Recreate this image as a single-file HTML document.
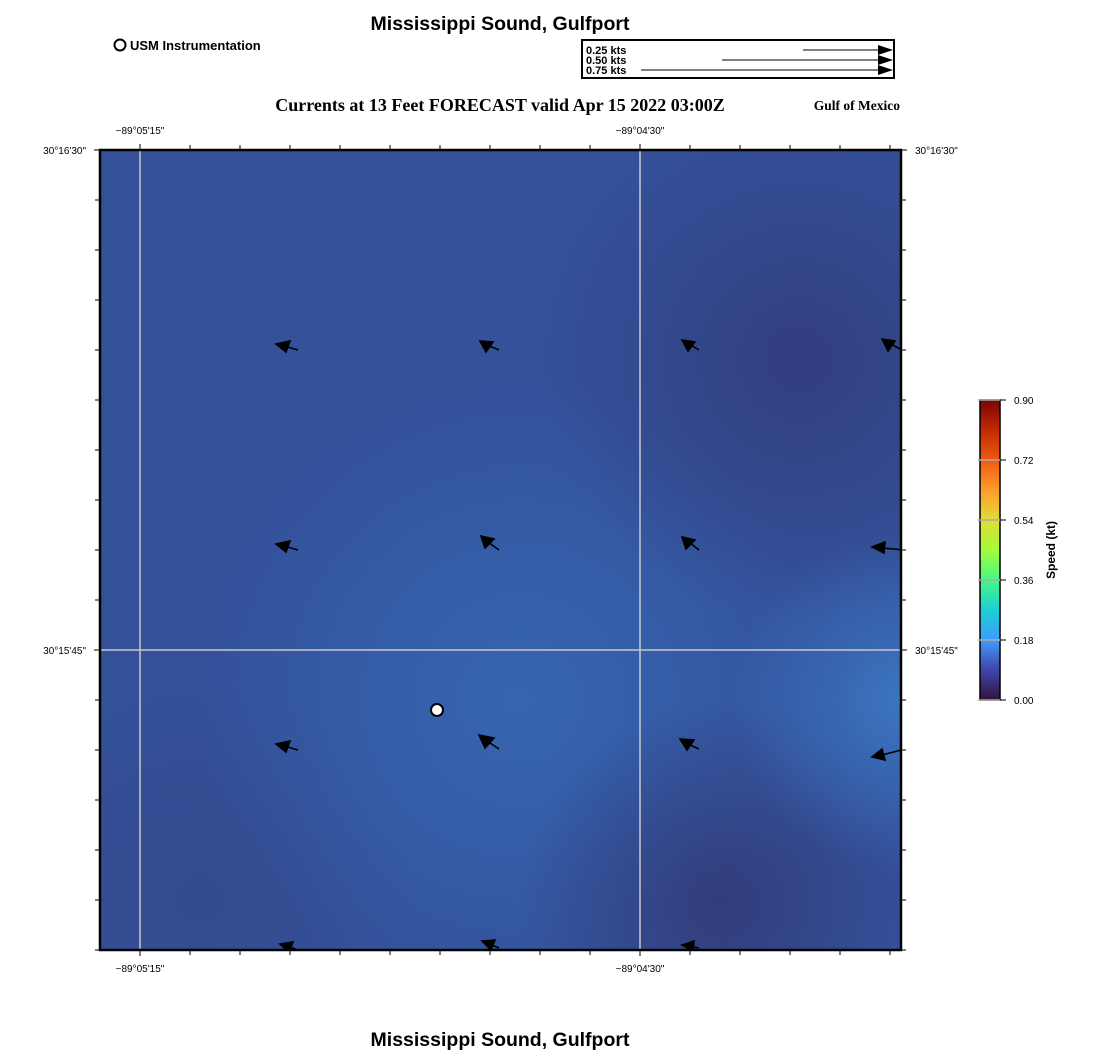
<!DOCTYPE html>
<html><head><meta charset="utf-8"><style>
body{margin:0;background:#fff;width:1100px;height:1050px;overflow:hidden}
svg{display:block}
</style></head><body>
<svg width="1100" height="1050" viewBox="0 0 1100 1050" font-family="Liberation Sans, sans-serif">
<defs>
<linearGradient id="turbo" x1="0" y1="1" x2="0" y2="0">
<stop offset="0" stop-color="#30123b"/><stop offset="0.1" stop-color="#4145ab"/><stop offset="0.2" stop-color="#3e9bfe"/><stop offset="0.3" stop-color="#1bcfd4"/><stop offset="0.4" stop-color="#46f884"/><stop offset="0.5" stop-color="#a2fc3c"/><stop offset="0.6" stop-color="#e1dd37"/><stop offset="0.7" stop-color="#fe9b2d"/><stop offset="0.8" stop-color="#ef5911"/><stop offset="0.9" stop-color="#c12a04"/><stop offset="1" stop-color="#7a0403"/>
</linearGradient>
<radialGradient id="g1" cx="520" cy="700" r="320" gradientUnits="userSpaceOnUse"><stop offset="0" stop-color="#3668b4" stop-opacity="0.9"/><stop offset="1" stop-color="#3668b4" stop-opacity="0"/></radialGradient>
<radialGradient id="g2" cx="900" cy="700" r="170" gradientUnits="userSpaceOnUse"><stop offset="0" stop-color="#3c78c4" stop-opacity="0.9"/><stop offset="1" stop-color="#3c78c4" stop-opacity="0"/></radialGradient>
<radialGradient id="g3" cx="800" cy="360" r="260" gradientUnits="userSpaceOnUse"><stop offset="0" stop-color="#313c7c" stop-opacity="0.9"/><stop offset="1" stop-color="#313c7c" stop-opacity="0"/></radialGradient>
<radialGradient id="g4" cx="720" cy="900" r="200" gradientUnits="userSpaceOnUse"><stop offset="0" stop-color="#313a78" stop-opacity="0.9"/><stop offset="1" stop-color="#313a78" stop-opacity="0"/></radialGradient>
<radialGradient id="g5" cx="200" cy="900" r="220" gradientUnits="userSpaceOnUse"><stop offset="0" stop-color="#344a8e" stop-opacity="1"/><stop offset="1" stop-color="#344a8e" stop-opacity="0"/></radialGradient>
<clipPath id="cp"><rect x="100" y="150" width="801" height="800"/></clipPath>
</defs>
<text x="500" y="30" text-anchor="middle" font-size="19.5" font-weight="bold">Mississippi Sound, Gulfport</text>
<circle cx="120" cy="45" r="5.5" fill="#fff" stroke="#000" stroke-width="2"/>
<text x="130" y="50" font-size="13" font-weight="bold">USM Instrumentation</text>
<rect x="582" y="40" width="312" height="38" fill="#fff" stroke="#000" stroke-width="2"/>
<g font-size="11" font-weight="bold"><text x="586" y="54">0.25 kts</text><text x="586" y="64">0.50 kts</text><text x="586" y="74">0.75 kts</text></g>
<g stroke="#000" stroke-width="1"><line x1="803" y1="50" x2="880" y2="50"/><line x1="722" y1="60" x2="880" y2="60"/><line x1="641" y1="70" x2="880" y2="70"/></g>
<g fill="#000"><polygon points="878,45 893,50 878,55"/><polygon points="878,55 893,60 878,65"/><polygon points="878,65 893,70 878,75"/></g>
<text x="500" y="111" text-anchor="middle" font-size="18" font-weight="bold" font-family="Liberation Serif, serif">Currents at 13 Feet FORECAST valid Apr 15 2022 03:00Z</text>
<text x="900" y="110" text-anchor="end" font-size="13.5" font-weight="bold" font-family="Liberation Serif, serif">Gulf of Mexico</text>
<g clip-path="url(#cp)">
<rect x="100" y="150" width="801" height="800" fill="#34519a"/>
<rect x="100" y="150" width="801" height="800" fill="url(#g5)"/>
<rect x="100" y="150" width="801" height="800" fill="url(#g1)"/>
<rect x="100" y="150" width="801" height="800" fill="url(#g3)"/>
<rect x="100" y="150" width="801" height="800" fill="url(#g4)"/>
<rect x="100" y="150" width="801" height="800" fill="url(#g2)"/>
<g stroke="#c8c8d0" stroke-width="1.5"><line x1="140" y1="150" x2="140" y2="950"/><line x1="640" y1="150" x2="640" y2="950"/><line x1="100" y1="650" x2="901" y2="650"/></g>
<g stroke="#000" stroke-width="1.6" fill="#000">
<line x1="298" y1="350" x2="284" y2="346"/><polygon points="276,344 290,341 286,352"/>
<line x1="499" y1="350" x2="487" y2="345"/><polygon points="480,341 493,342 486,352"/>
<line x1="699" y1="350" x2="689" y2="344"/><polygon points="682,340 695,342 688,351"/>
<line x1="902" y1="350" x2="889" y2="343"/><polygon points="882,339 895,341 888,351"/>
<line x1="298" y1="550" x2="284" y2="546"/><polygon points="276,544 290,541 286,552"/>
<line x1="499" y1="550" x2="488" y2="542"/><polygon points="481,536 494,539 485,548"/>
<line x1="699" y1="550" x2="689" y2="542"/><polygon points="682,537 695,540 686,549"/>
<line x1="905" y1="550" x2="882" y2="548"/><polygon points="872,547 885,542 884,553"/>
<line x1="298" y1="750" x2="284" y2="746"/><polygon points="276,744 290,741 286,752"/>
<line x1="499" y1="749" x2="487" y2="741"/><polygon points="479,735 494,738 485,748"/>
<line x1="699" y1="749" x2="688" y2="744"/><polygon points="680,739 694,740 687,750"/>
<line x1="905" y1="749" x2="882" y2="755"/><polygon points="872,757 882,749 885,760"/>
<line x1="298" y1="950" x2="287" y2="946"/><polygon points="280,944 293,942 289,952"/>
<line x1="499" y1="948" x2="489" y2="944"/><polygon points="482,941 495,940 491,950"/>
<line x1="699" y1="948" x2="689" y2="946"/><polygon points="682,945 694,941 693,951"/>
</g>
</g>
<circle cx="437" cy="710" r="6" fill="#fff" stroke="#000" stroke-width="2"/>
<rect x="100" y="150" width="801" height="800" fill="none" stroke="#000" stroke-width="2.5"/>
<g stroke="#000" stroke-width="1">
<path d="M140 150v-6M190 150v-5M240 150v-5M290 150v-5M340 150v-5M390 150v-5M440 150v-5M490 150v-5M540 150v-5M590 150v-5M640 150v-6M690 150v-5M740 150v-5M790 150v-5M840 150v-5M890 150v-5"/>
<path d="M140 950v6M190 950v5M240 950v5M290 950v5M340 950v5M390 950v5M440 950v5M490 950v5M540 950v5M590 950v5M640 950v6M690 950v5M740 950v5M790 950v5M840 950v5M890 950v5"/>
<path d="M100 150h-6M100 200h-5M100 250h-5M100 300h-5M100 350h-5M100 400h-5M100 450h-5M100 500h-5M100 550h-5M100 600h-5M100 650h-6M100 700h-5M100 750h-5M100 800h-5M100 850h-5M100 900h-5M100 950h-5"/>
<path d="M901 150h6M901 200h5M901 250h5M901 300h5M901 350h5M901 400h5M901 450h5M901 500h5M901 550h5M901 600h5M901 650h6M901 700h5M901 750h5M901 800h5M901 850h5M901 900h5M901 950h5"/>
</g>
<g font-size="10">
<text x="140" y="134" text-anchor="middle">−89°05'15"</text><text x="640" y="134" text-anchor="middle">−89°04'30"</text>
<text x="140" y="972" text-anchor="middle">−89°05'15"</text><text x="640" y="972" text-anchor="middle">−89°04'30"</text>
<text x="86" y="154" text-anchor="end">30°16'30"</text><text x="86" y="654" text-anchor="end">30°15'45"</text>
<text x="915" y="154">30°16'30"</text><text x="915" y="654">30°15'45"</text>
</g>
<rect x="980" y="400" width="20" height="300" fill="url(#turbo)" stroke="#000" stroke-width="1.5"/>
<g stroke="#aaa" stroke-width="1.5"><path d="M978 400h24M978 460h24M978 520h24M978 580h24M978 640h24M978 700h24"/></g>
<g stroke="#000"><path d="M1000 400h6M1000 460h6M1000 520h6M1000 580h6M1000 640h6M1000 700h6"/></g>
<g font-size="10"><text x="1014" y="404">0.90</text><text x="1014" y="464">0.72</text><text x="1014" y="524">0.54</text><text x="1014" y="584">0.36</text><text x="1014" y="644">0.18</text><text x="1014" y="704">0.00</text></g>
<text transform="translate(1055,550) rotate(-90)" text-anchor="middle" font-size="12" font-weight="bold">Speed (kt)</text>
<text x="500" y="1046" text-anchor="middle" font-size="19.5" font-weight="bold">Mississippi Sound, Gulfport</text>
</svg>
</body></html>
